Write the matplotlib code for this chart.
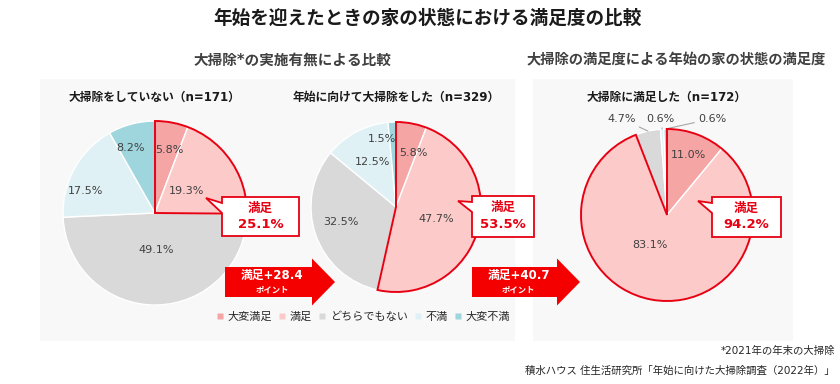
import numpy as np
import matplotlib
matplotlib.use("Agg")
import matplotlib.pyplot as plt
from matplotlib.patches import Wedge, Polygon, Rectangle, FancyArrow
from matplotlib.lines import Line2D

plt.rcParams['font.family'] = ['DejaVu Sans', 'Noto Sans CJK JP']

# data
categories = ['大変満足', '満足', 'どちらでもない', '不満', '大変不満']
colors = ['#f6a5a5', '#fdcaca', '#d9d9d9', '#e0f1f5', '#9fd6de']

titles = ['大掃除をしていない（n=171）', '年始に向けて大掃除をした（n=329）', '大掃除に満足した（n=172）']
no_cleaning = [5.8, 19.3, 49.1, 17.5, 8.2]
did_cleaning = [5.8, 47.7, 32.5, 12.5, 1.5]
satisfied_cleaning = [11.0, 83.1, 4.7, 0.6, 0.6]
satisfied_total = [25.1, 53.5, 94.2]
diff_points = [28.4, 40.7]

RED = '#e60012'
W, H = 840, 384

fig = plt.figure(figsize=(W / 100, H / 100), dpi=100)

# background layer (pixel coordinates)
ax_bg = fig.add_axes([0, 0, 1, 1], zorder=0)
ax_bg.set_xlim(0, W)
ax_bg.set_ylim(H, 0)
ax_bg.axis('off')
ax_bg.add_patch(Rectangle((40, 79), 475, 262, facecolor='#f8f8f8', edgecolor='none'))
ax_bg.add_patch(Rectangle((533, 79), 260, 262, facecolor='#f8f8f8', edgecolor='none'))

# foreground layer for callouts, arrows, text
ax_fg = fig.add_axes([0, 0, 1, 1], zorder=5)
ax_fg.set_xlim(0, W)
ax_fg.set_ylim(H, 0)
ax_fg.patch.set_alpha(0)
ax_fg.axis('off')

ax_fg.text(427, 18, '年始を迎えたときの家の状態における満足度の比較', ha='center', va='center',
           fontsize=13.4, fontweight='bold', color='#1a1a1a')
ax_fg.text(292, 60, '大掃除*の実施有無による比較', ha='center', va='center',
           fontsize=10.5, fontweight='bold', color='#404040')
ax_fg.text(676, 60, '大掃除の満足度による年始の家の状態の満足度', ha='center', va='center',
           fontsize=10.3, fontweight='bold', color='#404040')


def draw_pie(values, cx, cy, r, title, label_pos, leaders=None):
    m = 1.04
    ax = fig.add_axes([(cx - r * m) / W, 1 - (cy + r * m) / H, 2 * r * m / W, 2 * r * m / H], zorder=2)
    wedges, _ = ax.pie(values, colors=colors, startangle=90, counterclock=False, radius=1,
                       wedgeprops=dict(edgecolor='white', linewidth=1))
    ax.set_xlim(-m, m)
    ax.set_ylim(-m, m)
    ax.axis('off')
    # red outline around the satisfied share
    ax.add_patch(Wedge((0, 0), 1, wedges[1].theta1, wedges[0].theta2, fill=False,
                       edgecolor=RED, linewidth=1.4, zorder=4, clip_on=False))
    for i, (w, v) in enumerate(zip(wedges, values)):
        mid = np.deg2rad((w.theta1 + w.theta2) / 2)
        if leaders and i in leaders:
            dx, dy = leaders[i]
            ax.annotate(f'{v:.1f}%', (np.cos(mid), np.sin(mid)), xytext=(dx, dy),
                        textcoords='offset points', ha='center', va='center', fontsize=8,
                        color='#404040', annotation_clip=False,
                        arrowprops=dict(arrowstyle='-', color='#a6a6a6', lw=0.8,
                                        shrinkA=1, shrinkB=0))
        else:
            rf, dx, dy = label_pos[i]
            ax.annotate(f'{v:.1f}%', (rf * np.cos(mid), rf * np.sin(mid)), xytext=(dx, dy),
                        textcoords='offset points', ha='center', va='center', fontsize=8,
                        color='#404040', annotation_clip=False)
    ax_fg.text(cx, 97, title, ha='center', va='center', fontsize=8.5,
               fontweight='bold', color='#1a1a1a')


draw_pie(no_cleaning, 155, 213, 92, titles[0],
         [(0.70, 2, 0), (0.42, 0, 0), (0.40, 0, 0), (0.78, -5, -9), (0.76, -5, -2)])
draw_pie(did_cleaning, 396, 207, 85, titles[1],
         [(0.68, 5, -2), (0.50, 0, 0), (0.69, 0, 3), (0.60, 0, 0), (0.80, -8, 0)])
draw_pie(satisfied_cleaning, 667, 215, 86, titles[2],
         [(0.74, 0, 0), (0.40, -8, 3), None, None, None],
         leaders={2: (-19, 9), 3: (-1, 7.5), 4: (34, 7.5)})


def callout(x0, x1, y0, y1, tip, value):
    pts = [(x0, y0), (x1, y0), (x1, y1), (x0, y1), (x0, y0 + 16), tip, (x0, y0 + 6)]
    ax_fg.add_patch(Polygon(pts, closed=True, facecolor='white', edgecolor=RED, linewidth=1.3))
    xc = (x0 + x1) / 2
    ax_fg.text(xc, y0 + 11, '満足', ha='center', va='center', fontsize=9,
               fontweight='bold', color=RED)
    ax_fg.text(xc, y0 + 28, f'{value:.1f}%', ha='center', va='center', fontsize=9.5,
               fontweight='bold', color=RED)


callout(222, 299, 197, 236, (206, 198), satisfied_total[0])
callout(472, 534, 196, 237, (458, 201), satisfied_total[1])
callout(712, 781, 197, 237, (698, 201), satisfied_total[2])


def big_arrow(x0, x1, value):
    ax_fg.add_patch(FancyArrow(x0, 282, x1 - x0, 0, width=30, head_width=47, head_length=23,
                               length_includes_head=True, facecolor='#f50000',
                               edgecolor='none'))
    xc = x0 + (x1 - x0 - 23) / 2 + 4
    ax_fg.text(xc, 275, f'満足+{value:.1f}', ha='center', va='center', fontsize=8.5,
               fontweight='bold', color='white')
    ax_fg.text(xc, 290, 'ポイント', ha='center', va='center', fontsize=6,
               fontweight='bold', color='white')


big_arrow(225, 335, diff_points[0])
big_arrow(472, 580, diff_points[1])

handles = [Line2D([0], [0], marker='s', linestyle='none', markersize=5,
                  markerfacecolor=c, markeredgecolor='none') for c in colors]
fig.legend(handles, categories, loc='center', bbox_to_anchor=(363 / W, 1 - 317 / H), ncol=5,
           frameon=False, fontsize=8, handlelength=0.7, handletextpad=0.3, columnspacing=0.6,
           labelcolor='#262626')

ax_fg.text(835, 351, '*2021年の年末の大掃除', ha='right', va='center', fontsize=7.5, color='#262626')
ax_fg.text(835, 371, '積水ハウス 住生活研究所「年始に向けた大掃除調査（2022年）」', ha='right',
           va='center', fontsize=7.5, color='#262626')

fig.savefig('out.png', dpi=100)
